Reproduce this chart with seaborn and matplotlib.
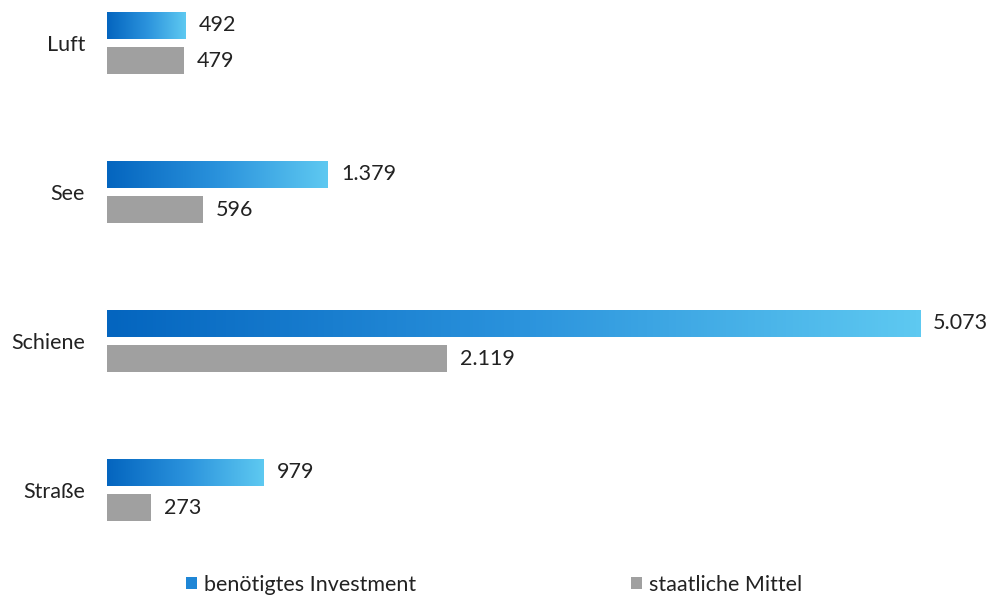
import numpy as np
import pandas as pd
import matplotlib
matplotlib.use("Agg")
import matplotlib.pyplot as plt
from matplotlib.colors import LinearSegmentedColormap
from matplotlib.patches import Patch
import seaborn as sns

categories = ["Luft", "See", "Schiene", "Straße"]
investment = [492, 1379, 5073, 979]
public_funds = [479, 596, 2119, 273]
labels_inv = ["492", "1.379", "5.073", "979"]
labels_pub = ["479", "596", "2.119", "273"]
series = ["benötigtes Investment", "staatliche Mittel"]

df = pd.DataFrame({
    "cat": categories * 2,
    "val": investment + public_funds,
    "series": [series[0]] * 4 + [series[1]] * 4,
})

sns.set_theme(style="white")
plt.rcParams["font.family"] = ["Lato", "DejaVu Sans"]

W, H = 989, 598
FS = 15.5
TXT = "#222222"
fig = plt.figure(figsize=(W / 100, H / 100), dpi=100)
ax = fig.add_axes([107 / W, 0, 813 / W, 1])

gray = "#a0a0a0"
sns.barplot(data=df, x="val", y="cat", hue="series", orient="h",
            palette=["#2f8ed8", gray], width=0.483, gap=0.25,
            ax=ax, legend=False, saturation=1, linewidth=0, edgecolor="none")

ax.set_xlim(0, 5073)
ax.set_ylim((598 - 43) / 149, -43 / 149)
for s in ax.spines.values():
    s.set_visible(False)
ax.set_xticks([])
ax.set_xlabel("")
ax.set_ylabel("")
ax.tick_params(axis="y", length=0, pad=22 * 0.72, labelsize=FS, labelcolor=TXT)

cmap = LinearSegmentedColormap.from_list("blu", ["#0465bf", "#2a92dc", "#5ec9f1"])
grad = np.linspace(0, 1, 256).reshape(1, -1)
blue_bars = ax.containers[0]
for p in blue_bars:
    x0, y0 = p.get_x(), p.get_y()
    w, h = p.get_width(), p.get_height()
    im = ax.imshow(grad, cmap=cmap, aspect="auto",
                   extent=[x0, x0 + w, y0 + h, y0], zorder=p.get_zorder() + 0.1,
                   interpolation="bicubic")
    im.set_clip_path(p)
ax.set_xlim(0, 5073)
ax.set_ylim((598 - 43) / 149, -43 / 149)

off = 13 * 5073 / 813
for cont, labs in zip(ax.containers, [labels_inv, labels_pub]):
    for p, t in zip(cont, labs):
        ax.text(p.get_x() + p.get_width() + off, p.get_y() + p.get_height() / 2, t,
                va="center", ha="left", fontsize=FS, color=TXT, clip_on=False)

blue_leg = Patch(facecolor="#1f86d6", edgecolor="none")
gray_leg = Patch(facecolor=gray, edgecolor="none")
for h_, lab, x in [(blue_leg, series[0], 186), (gray_leg, series[1], 631)]:
    leg = fig.legend(handles=[h_], labels=[lab], loc="center left",
                     bbox_to_anchor=(x / W, 1 - 585 / H), frameon=False, fontsize=FS,
                     handlelength=0.5, handleheight=0.5, handletextpad=0.35,
                     borderpad=0, borderaxespad=0)
    for t in leg.get_texts():
        t.set_color(TXT)

fig.savefig("out.png", dpi=100)
